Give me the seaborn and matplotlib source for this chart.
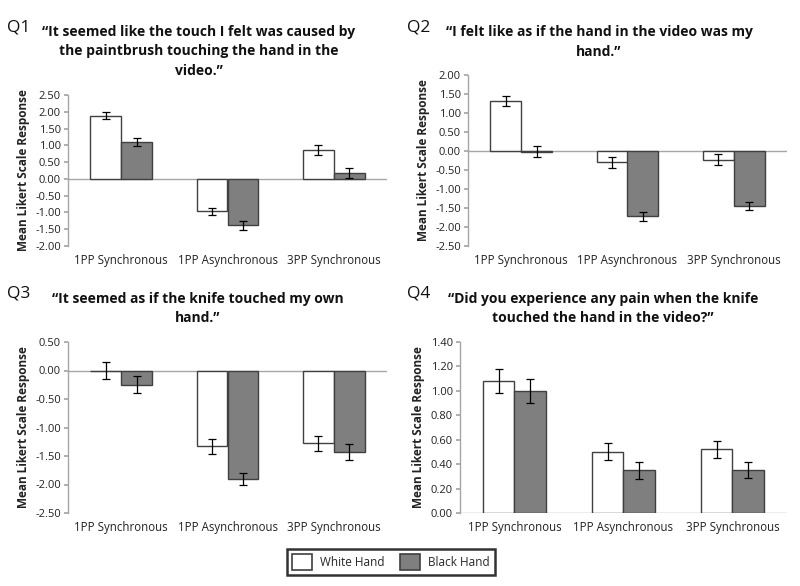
import matplotlib
matplotlib.use("Agg")
import matplotlib.pyplot as plt
import seaborn as sns
import pandas as pd
from matplotlib.patches import Patch

sns.set_theme(style="white")
plt.rcParams['font.family'] = ['Open Sans', 'DejaVu Sans']

conditions = ['1PP Synchronous', '1PP Asynchronous', '3PP Synchronous']
hands = ['White Hand', 'Black Hand']

q1_white = [1.88, -0.97, 0.86]
q1_black = [1.10, -1.38, 0.17]
q1_white_err = [0.10, 0.10, 0.14]
q1_black_err = [0.13, 0.13, 0.14]

q2_white = [1.32, -0.30, -0.23]
q2_black = [-0.02, -1.72, -1.45]
q2_white_err = [0.14, 0.14, 0.14]
q2_black_err = [0.15, 0.12, 0.10]

q3_white = [0.00, -1.33, -1.28]
q3_black = [-0.25, -1.90, -1.43]
q3_white_err = [0.15, 0.13, 0.13]
q3_black_err = [0.15, 0.11, 0.14]

q4_white = [1.08, 0.50, 0.52]
q4_black = [1.00, 0.35, 0.35]
q4_white_err = [0.10, 0.07, 0.07]
q4_black_err = [0.10, 0.07, 0.065]

titles = [
    "\u201cIt seemed like the touch I felt was caused by\nthe paintbrush touching the hand in the\nvideo.\u201d",
    "\u201cI felt like as if the hand in the video was my\nhand.\u201d",
    "\u201cIt seemed as if the knife touched my own\nhand.\u201d",
    "\u201cDid you experience any pain when the knife\ntouched the hand in the video?\u201d",
]

panels = [
    ('Q1', q1_white, q1_black, q1_white_err, q1_black_err, (-2.0, 2.5), 0.5),
    ('Q2', q2_white, q2_black, q2_white_err, q2_black_err, (-2.5, 2.0), 0.5),
    ('Q3', q3_white, q3_black, q3_white_err, q3_black_err, (-2.5, 0.5), 0.5),
    ('Q4', q4_white, q4_black, q4_white_err, q4_black_err, (0.0, 1.4), 0.2),
]

W, H = 800, 586
# axes boxes in pixels: left, top, right, bottom
boxes = [(68, 95, 387, 246), (468, 75, 787, 246),
         (68, 342, 387, 513), (460, 342, 787, 513)]
title_pos = [(199, 25), (599, 25), (198, 292), (603, 292)]
qlabel_pos = [(7, 19), (407, 19), (7, 285), (407, 285)]

colors = {'White Hand': 'white', 'Black Hand': '#7f7f7f'}
edge = '#404040'

fig = plt.figure(figsize=(W / 100, H / 100), dpi=100)

for i, (q, wv, bv, we, be, ylim, step) in enumerate(panels):
    l, t, r, b = boxes[i]
    ax = fig.add_axes([l / W, 1 - b / H, (r - l) / W, (b - t) / H])
    df = pd.DataFrame({
        'condition': conditions * 2,
        'hand': ['White Hand'] * 3 + ['Black Hand'] * 3,
        'value': wv + bv,
        'err': we + be,
    })
    sns.barplot(data=df, x='condition', y='value', hue='hand', order=conditions,
                hue_order=hands, palette=colors, width=0.58, errorbar=None,
                edgecolor=edge, linewidth=1.0, ax=ax, legend=False)
    for cont, hand in zip(ax.containers, hands):
        errs = df[df['hand'] == hand]['err'].tolist()
        vals = df[df['hand'] == hand]['value'].tolist()
        xs = [p.get_x() + p.get_width() / 2 for p in cont.patches]
        ax.errorbar(xs, vals, yerr=errs, fmt='none', ecolor='black',
                    elinewidth=0.9, capsize=3, capthick=0.9)
    ax.axhline(0, color='#a6a6a6', lw=1.0, zorder=0.5)
    ax.set_xlim(-0.5, 2.5)
    ax.set_ylim(*ylim)
    n = int(round((ylim[1] - ylim[0]) / step))
    ticks = [ylim[0] + k * step for k in range(n + 1)]
    ax.set_yticks(ticks)
    ax.set_yticklabels([f"{v:.2f}" if abs(v) > 1e-9 else "0.00" for v in ticks])
    ax.tick_params(axis='y', labelsize=8, length=3, color='#a6a6a6', direction='out',
                   left=True, pad=2, labelcolor='#222222')
    ax.tick_params(axis='x', labelsize=8.3, length=0, pad=6, labelcolor='#222222')
    for s in ['top', 'right', 'bottom']:
        ax.spines[s].set_visible(False)
    ax.spines['left'].set_color('#a6a6a6')
    ax.spines['left'].set_linewidth(1.0)
    ax.set_xlabel('')
    ax.set_ylabel('Mean Likert Scale Response', fontsize=8.5, fontweight='bold',
                  color='#222222', labelpad=4)
    tx, ty = title_pos[i]
    fig.text(tx / W, 1 - ty / H, titles[i], ha='center', va='top', fontsize=10,
             fontweight='bold', color='#111111', linespacing=1.5)
    qx, qy = qlabel_pos[i]
    fig.text(qx / W, 1 - qy / H, q, ha='left', va='top', fontsize=12.5, color='#111111')

handles = [Patch(facecolor=colors[h], edgecolor=edge, linewidth=1.2, label=h) for h in hands]
leg = fig.legend(handles=handles, loc='center', bbox_to_anchor=(391 / W, 1 - 562 / H),
                 ncol=2, frameon=True, fontsize=8.5, handlelength=1.7, handleheight=1.7,
                 columnspacing=1.3, handletextpad=0.7, borderpad=0.45, fancybox=False)
leg.get_frame().set_edgecolor('black')
leg.get_frame().set_linewidth(1.8)

fig.savefig('out.png', dpi=100, facecolor='white')
